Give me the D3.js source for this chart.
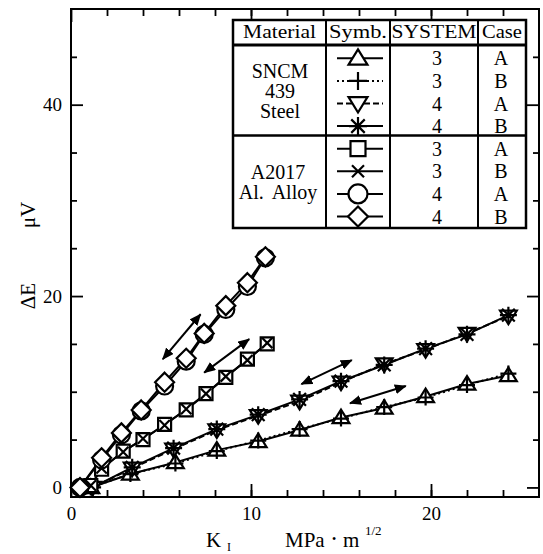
<!DOCTYPE html>
<html>
<head>
<meta charset="utf-8">
<script src="https://cdn.jsdelivr.net/npm/d3@7/dist/d3.min.js"></script>
<style>
  body { margin: 0; background: #fff; }
  svg text { font-family: "Liberation Serif", serif !important; fill: #000; }
</style>
</head>
<body>
<svg id="chart" width="543" height="554"></svg>
<script>
// ---- data (K_I in MPa·m^1/2, ΔE in μV) ----
const kSteel3 = [1.1, 3.3, 5.8, 8.1, 10.4, 12.7, 15.0, 17.4, 19.7, 22.0, 24.3];
const eSteel3A = [0, 1.4, 2.6, 3.9, 4.8, 6.0, 7.3, 8.3, 9.5, 10.8, 11.7];
const eSteel3B = [0, 1.4, 2.5, 3.8, 4.9, 6.1, 7.2, 8.4, 9.4, 10.7, 11.9];
const kSteel4 = [1.2, 3.4, 5.7, 8.1, 10.4, 12.7, 15.0, 17.4, 19.7, 22.0, 24.3];
const eSteel4A = [0, 2.0, 4.0, 6.0, 7.5, 9.0, 11.0, 12.9, 14.4, 16.1, 17.9];
const eSteel4B = [0, 2.1, 4.1, 6.1, 7.6, 9.2, 11.1, 12.8, 14.5, 16.0, 18.0];
const kAl3 = [1.1, 1.7, 2.9, 4.0, 5.2, 6.4, 7.5, 8.6, 9.8, 10.9];
const eAl3A = [0.2, 1.9, 3.8, 5.0, 6.6, 8.1, 9.8, 11.5, 13.4, 15.0];
const eAl3B = [0.2, 2.0, 3.7, 5.1, 6.5, 8.2, 9.8, 11.6, 13.3, 15.1];
const kAl4 = [0.5, 1.7, 2.8, 3.9, 5.2, 6.4, 7.4, 8.6, 9.8, 10.8];
const eAl4A = [0, 2.9, 5.5, 8.0, 10.6, 13.2, 16.0, 18.6, 21.0, 24.0];
const eAl4B = [0, 3.1, 5.7, 8.1, 11.0, 13.5, 16.1, 19.0, 21.4, 24.1];

// loading / unloading arrows [k1, e1, k2, e2]
const arrowSpans = [
  [5.1, 13.4, 7.2, 18.1],
  [7.4, 12.0, 9.9, 15.5],
  [12.8, 10.8, 15.6, 13.3],
  [15.5, 8.8, 18.6, 10.6]
];

// ticks
const xMinorTicks = d3.range(2, 26, 2);
const xMajorTicks = [0, 10, 20];
const yMinorTicks = [5, 10, 15, 25, 30, 35, 45];
const yMajorTicks = [0, 20, 40];

// legend table
const legendHeaders = ["Material", "Symb.", "SYSTEM", "Case"];
const legendMaterials = [["SNCM", "439", "Steel"], ["A2017", "Al. Alloy"]];
const legendSystem = ["3", "3", "4", "4", "3", "3", "4", "4"];
const legendCase = ["A", "B", "A", "B", "A", "B", "A", "B"];

const series = [
  { xs: kSteel3, ys: eSteel3A, sym: "triangle", dash: null },
  { xs: kSteel3, ys: eSteel3B, sym: "plus", dash: "2,3" },
  { xs: kSteel4, ys: eSteel4A, sym: "triangleDown", dash: "6,3" },
  { xs: kSteel4, ys: eSteel4B, sym: "asterisk", dash: null },
  { xs: kAl3, ys: eAl3A, sym: "square", dash: null },
  { xs: kAl3, ys: eAl3B, sym: "x", dash: null },
  { xs: kAl4, ys: eAl4A, sym: "circle", dash: null },
  { xs: kAl4, ys: eAl4B, sym: "diamond", dash: null }
];

const svg = d3.select("#chart");
const x = d3.scaleLinear().domain([0, 26]).range([71, 539]);
const y = d3.scaleLinear().domain([-1, 50]).range([497, 9]);
const serif = "Liberation Serif, serif";

// marker shapes, s = half size
function markerPath(type, s) {
  const p = d3.path();
  switch (type) {
    case "circle": p.moveTo(s, 0); p.arc(0, 0, s, 0, 2 * Math.PI); break;
    case "square": p.rect(-s, -s, 2 * s, 2 * s); break;
    case "diamond": p.moveTo(0, -s); p.lineTo(s, 0); p.lineTo(0, s); p.lineTo(-s, 0); p.closePath(); break;
    case "triangle": p.moveTo(0, -s); p.lineTo(s * 1.05, s * 0.7); p.lineTo(-s * 1.05, s * 0.7); p.closePath(); break;
    case "triangleDown": p.moveTo(0, s); p.lineTo(s * 1.05, -s * 0.7); p.lineTo(-s * 1.05, -s * 0.7); p.closePath(); break;
    case "plus": p.moveTo(-s, 0); p.lineTo(s, 0); p.moveTo(0, -s); p.lineTo(0, s); break;
    case "x": { const a = s * 0.8; p.moveTo(-a, -a); p.lineTo(a, a); p.moveTo(a, -a); p.lineTo(-a, a); break; }
    case "asterisk": {
      const a = s * 0.75;
      p.moveTo(-s, 0); p.lineTo(s, 0); p.moveTo(0, -s); p.lineTo(0, s);
      p.moveTo(-a, -a); p.lineTo(a, a); p.moveTo(a, -a); p.lineTo(-a, a); break;
    }
  }
  return p.toString();
}
const chartSize = { circle: 8.5, diamond: 9.5, square: 6.5, triangle: 8, triangleDown: 8, plus: 8, x: 6.5, asterisk: 8.5 };
const legendSize = { circle: 9.5, diamond: 10, square: 7.5, triangle: 9, triangleDown: 9, plus: 9, x: 7.5, asterisk: 9 };
const isOpen = t => !["plus", "x", "asterisk"].includes(t);

// ---- axes (ticks point inward on all four sides) ----
function addAxis(axis, transform, labels) {
  const g = svg.append("g").attr("transform", transform).call(axis).attr("font-family", serif);
  g.select(".domain").remove();
  g.selectAll(".tick line").attr("stroke", "#000").attr("stroke-width", 1.8);
  if (labels) g.selectAll(".tick text").attr("font-size", 19);
  else g.selectAll(".tick text").remove();
  return g;
}
addAxis(d3.axisBottom(x).tickValues(xMinorTicks).tickSize(-7), "translate(0,497)", false);
addAxis(d3.axisBottom(x).tickValues(xMajorTicks).tickSize(-13).tickPadding(10).tickFormat(d3.format("d")), "translate(0,497)", true);
addAxis(d3.axisTop(x).tickValues(xMinorTicks).tickSize(-7), "translate(0,9)", false);
addAxis(d3.axisTop(x).tickValues(xMajorTicks).tickSize(-13), "translate(0,9)", false);
addAxis(d3.axisLeft(y).tickValues(yMinorTicks).tickSize(-6), "translate(71,0)", false);
addAxis(d3.axisLeft(y).tickValues(yMajorTicks).tickSize(-12).tickPadding(9).tickFormat(d3.format("d")), "translate(71,0)", true);
addAxis(d3.axisRight(y).tickValues(yMinorTicks).tickSize(-6), "translate(539,0)", false);
addAxis(d3.axisRight(y).tickValues(yMajorTicks).tickSize(-12), "translate(539,0)", false);

svg.append("rect")
  .attr("x", x(0)).attr("y", y(50))
  .attr("width", x(26) - x(0)).attr("height", y(-1) - y(50))
  .attr("fill", "none").attr("stroke", "#000").attr("stroke-width", 2);

// axis titles
function label(px, py, size, txt) {
  return svg.append("text").attr("x", px).attr("y", py).attr("font-size", size).text(txt);
}
svg.append("text").attr("transform", "translate(28,296) rotate(-90)")
  .attr("text-anchor", "middle").attr("dy", "0.35em").attr("font-size", 21).text("ΔE");
svg.append("text").attr("transform", "translate(28,215) rotate(-90)")
  .attr("text-anchor", "middle").attr("dy", "0.35em").attr("font-size", 21).text("μV");
label(206, 547, 21, "K");
label(227, 551, 12, "I");
label(285, 547, 21, "MPa");
label(332, 543, 12, "•");
label(343, 547, 21, "m");
label(365, 535, 13, "1/2");

// ---- data lines and markers ----
const line = d3.line().x(d => x(d[0])).y(d => y(d[1]));
const plot = svg.append("g");
series.forEach(s => {
  const pts = s.xs.map((k, i) => [k, s.ys[i]]);
  plot.append("path").attr("d", line(pts)).attr("fill", "none")
    .attr("stroke", "#000").attr("stroke-width", 2)
    .attr("stroke-dasharray", s.dash);
});
series.forEach(s => {
  const pts = s.xs.map((k, i) => [k, s.ys[i]]);
  plot.selectAll(null).data(pts).join("path")
    .attr("transform", d => `translate(${x(d[0])},${y(d[1])})`)
    .attr("d", markerPath(s.sym, chartSize[s.sym]))
    .attr("fill", isOpen(s.sym) ? "#fff" : "none")
    .attr("stroke", "#000").attr("stroke-width", 2.2);
});

// double-headed arrows
svg.append("defs").append("marker")
  .attr("id", "head").attr("viewBox", "0 0 12 10").attr("refX", 11).attr("refY", 5)
  .attr("markerWidth", 12).attr("markerHeight", 10).attr("markerUnits", "userSpaceOnUse")
  .attr("orient", "auto-start-reverse")
  .append("path").attr("d", "M0,0 L12,5 L0,10 Z").attr("fill", "#000");
svg.selectAll(".arrow").data(arrowSpans).join("line")
  .attr("x1", d => x(d[0])).attr("y1", d => y(d[1]))
  .attr("x2", d => x(d[2])).attr("y2", d => y(d[3]))
  .attr("stroke", "#000").attr("stroke-width", 2)
  .attr("marker-start", "url(#head)").attr("marker-end", "url(#head)");

// ---- legend table ----
const tb = { left: 233, right: 526, top: 20, head: 45, bottom: 228 };
const cols = [233, 326, 390, 478, 526];
const rowTop = 47, rowH = 22.6;
const leg = svg.append("g");
leg.append("rect").attr("x", tb.left).attr("y", tb.top)
  .attr("width", tb.right - tb.left).attr("height", tb.bottom - tb.top)
  .attr("fill", "#fff").attr("stroke", "#000").attr("stroke-width", 2.5);
leg.selectAll(".vline").data(cols.slice(1, 4)).join("line")
  .attr("x1", d => d).attr("x2", d => d).attr("y1", tb.top).attr("y2", tb.bottom)
  .attr("stroke", "#000").attr("stroke-width", 2);
leg.append("line").attr("x1", tb.left).attr("x2", tb.right).attr("y1", tb.head).attr("y2", tb.head)
  .attr("stroke", "#000").attr("stroke-width", 3);
leg.append("line").attr("x1", tb.left).attr("x2", tb.right)
  .attr("y1", rowTop + 4 * rowH - 2).attr("y2", rowTop + 4 * rowH - 2)
  .attr("stroke", "#000").attr("stroke-width", 2.5);

const headLen = [73, 58, 85, 40];
legendHeaders.forEach((h, i) => {
  leg.append("text").attr("x", (cols[i] + cols[i + 1]) / 2).attr("y", 38)
    .attr("text-anchor", "middle").attr("font-size", 19)
    .attr("textLength", headLen[i]).attr("lengthAdjust", "spacingAndGlyphs").text(h);
});
legendMaterials[0].forEach((t, i) => {
  leg.append("text").attr("x", 280).attr("y", 78 + i * 20).attr("text-anchor", "middle")
    .attr("font-size", 20).text(t);
});
legendMaterials[1].forEach((t, i) => {
  leg.append("text").attr("x", 278).attr("y", 179 + i * 20).attr("text-anchor", "middle")
    .attr("font-size", 20).attr("word-spacing", 4).text(t);
});
series.forEach((s, i) => {
  const cy = rowTop + rowH * (i + 0.5);
  leg.append("line").attr("x1", 337).attr("x2", 383).attr("y1", cy).attr("y2", cy)
    .attr("stroke", "#000").attr("stroke-width", 2).attr("stroke-dasharray", s.dash);
  leg.append("path").attr("transform", `translate(358,${cy})`)
    .attr("d", markerPath(s.sym, legendSize[s.sym]))
    .attr("fill", isOpen(s.sym) ? "#fff" : "none")
    .attr("stroke", "#000").attr("stroke-width", 2.2);
  leg.append("text").attr("x", 437).attr("y", cy + 7).attr("text-anchor", "middle")
    .attr("font-size", 20).text(legendSystem[i]);
  leg.append("text").attr("x", 501).attr("y", cy + 7).attr("text-anchor", "middle")
    .attr("font-size", 20).text(legendCase[i]);
});
</script>
</body>
</html>
